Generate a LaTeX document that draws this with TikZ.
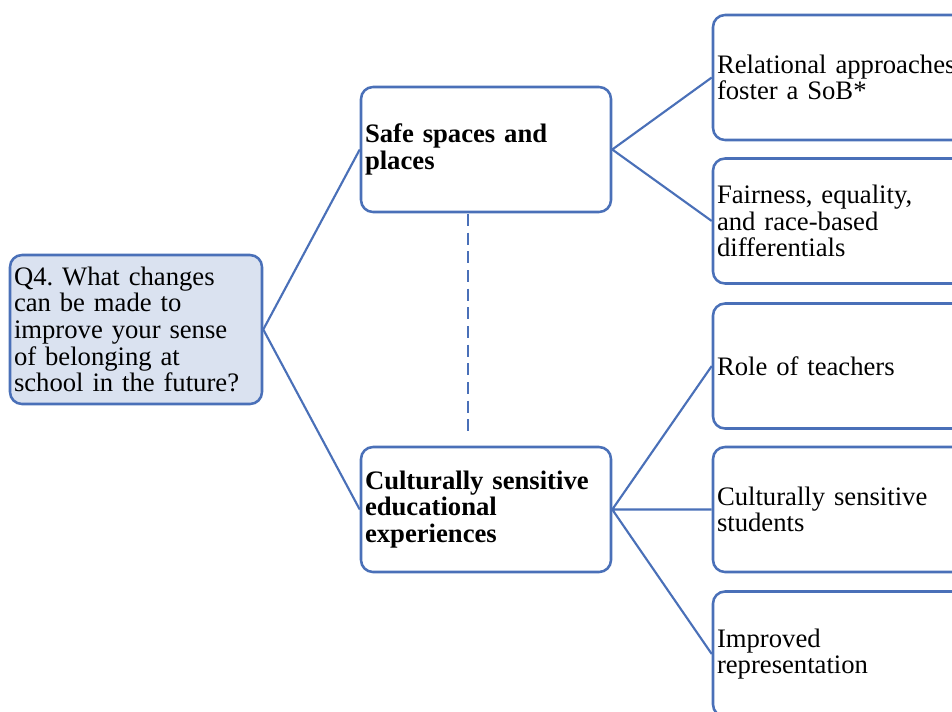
\documentclass[tikz,border=0pt]{standalone}
\usepackage{fontspec}
\setmainfont{Liberation Serif}
\definecolor{edgeblue}{HTML}{4A70B8}
\definecolor{qfill}{HTML}{DAE2F0}
\frenchspacing
\begin{document}
\begin{tikzpicture}[x=0.75pt,y=-0.75pt,
box/.style={draw=edgeblue,line width=1.9pt,rounded corners=9pt,align=left,
 inner xsep=3pt,inner ysep=0pt,font=\fontsize{20}{20}\selectfont},
link/.style={draw=edgeblue,line width=1.6pt}]
\useasboundingbox(0,0)rectangle(952,711);
\clip(0,0)rectangle(952,711);
\node[box,fill=qfill,text width=183pt,minimum height=111.75pt](q)at(136,329.5)
{Q4. What changes\\can be made to\\improve your sense\\of belonging at\\school in the future?};
\node[box,text width=181.5pt,minimum height=93.75pt,font=\fontsize{20}{20}\selectfont\bfseries](safe)at(486,149.5)
{Safe spaces and\\places};
\node[box,text width=181.5pt,minimum height=93.75pt,font=\fontsize{20}{20}\selectfont\bfseries](cult)at(486,509.5)
{Culturally sensitive\\educational\\experiences};
\node[box,text width=189pt,minimum height=93.75pt](rel)at(843,77.5){Relational approaches\\foster a SoB*};
\node[box,text width=189pt,minimum height=93.75pt](fair)at(843,221){Fairness, equality,\\and race-based\\differentials};
\node[box,text width=189pt,minimum height=93.75pt](role)at(843,366){Role of teachers};
\node[box,text width=189pt,minimum height=93.75pt](stud)at(843,509.5){Culturally sensitive\\students};
\node[box,text width=189pt,minimum height=93.75pt](repr)at(843,654){Improved\\representation};
\draw[link](q.east)--(safe.west)(q.east)--(cult.west);
\draw[link](safe.east)--(rel.west)(safe.east)--(fair.west);
\draw[link](cult.east)--(role.west)(cult.east)--(stud.west)(cult.east)--(repr.west);
\coordinate(gapA)at(468,214);\coordinate(gapB)at(468,433);
\draw[link,line width=2pt,dash pattern=on 9pt off 5pt](gapA)--(gapB);
\end{tikzpicture}
\end{document}
